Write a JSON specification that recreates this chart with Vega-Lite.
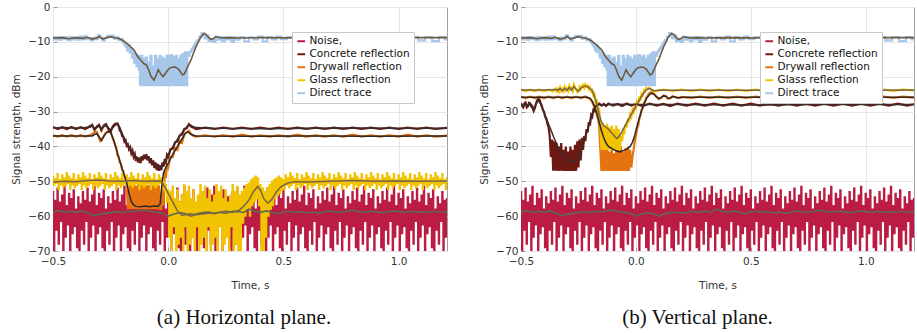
{
"$schema": "https://vega.github.io/schema/vega-lite/v6.json",
"background": "white",
"padding": {"left": 11, "top": 1, "right": 4, "bottom": 0},
"spacing": 31,
"resolve": {"scale": {"color": "independent"}},
"config": {
 "view": {"stroke": "#a0a0a0"},
 "axis": {"labelFont": "DejaVu Sans", "labelFontSize": 10.5, "labelColor": "#333", "titleFont": "DejaVu Sans", "titleFontSize": 10.5, "titleFontWeight": "normal", "titleColor": "#333", "grid": true, "gridColor": "#e6e6e6", "domain": false, "ticks": true, "tickSize": -4, "tickColor": "#999", "labelPadding": 7, "labelFlush": false, "labelOverlap": false},
 "axisX": {"titlePadding": 14, "labelPadding": 9},
 "axisY": {"titlePadding": 6},
 "legend": {"orient": "none", "legendX": 239, "legendY": 25, "title": null, "symbolType": "stroke", "symbolSize": 60, "symbolStrokeWidth": 2, "labelFont": "DejaVu Sans", "labelFontSize": 10.5, "labelColor": "#111", "fillColor": "white", "strokeColor": "#c8c8c8", "padding": 4, "rowPadding": 2, "labelOffset": 3},
 "title": {"orient": "bottom", "font": "Liberation Serif", "fontSize": 21, "fontWeight": "normal", "color": "#111", "anchor": "middle", "offset": 16}
},
"datasets": {
"noise": [{"t":-0.5,"v":-53},{"t":-0.495,"v":-70},{"t":-0.49,"v":-55.5},{"t":-0.485,"v":-64},{"t":-0.48,"v":-52},{"t":-0.475,"v":-68},{"t":-0.47,"v":-56},{"t":-0.465,"v":-61.5},{"t":-0.46,"v":-54},{"t":-0.455,"v":-71},{"t":-0.45,"v":-51.5},{"t":-0.445,"v":-66},{"t":-0.44,"v":-57},{"t":-0.435,"v":-62.5},{"t":-0.43,"v":-53.5},{"t":-0.425,"v":-70},{"t":-0.42,"v":-55},{"t":-0.415,"v":-65},{"t":-0.41,"v":-52.5},{"t":-0.405,"v":-63},{"t":-0.4,"v":-58},{"t":-0.395,"v":-69},{"t":-0.39,"v":-54.5},{"t":-0.385,"v":-70},{"t":-0.38,"v":-56.5},{"t":-0.375,"v":-64},{"t":-0.37,"v":-53},{"t":-0.365,"v":-68},{"t":-0.36,"v":-55.5},{"t":-0.355,"v":-61.5},{"t":-0.35,"v":-52},{"t":-0.345,"v":-71},{"t":-0.34,"v":-56},{"t":-0.335,"v":-66},{"t":-0.33,"v":-54},{"t":-0.325,"v":-62.5},{"t":-0.32,"v":-51.5},{"t":-0.315,"v":-70},{"t":-0.31,"v":-57},{"t":-0.305,"v":-65},{"t":-0.3,"v":-53.5},{"t":-0.295,"v":-63},{"t":-0.29,"v":-55},{"t":-0.285,"v":-69},{"t":-0.28,"v":-52.5},{"t":-0.275,"v":-70},{"t":-0.27,"v":-58},{"t":-0.265,"v":-64},{"t":-0.26,"v":-54.5},{"t":-0.255,"v":-68},{"t":-0.25,"v":-56.5},{"t":-0.245,"v":-61.5},{"t":-0.24,"v":-53},{"t":-0.235,"v":-71},{"t":-0.23,"v":-55.5},{"t":-0.225,"v":-66},{"t":-0.22,"v":-52},{"t":-0.215,"v":-62.5},{"t":-0.21,"v":-56},{"t":-0.205,"v":-70},{"t":-0.2,"v":-54},{"t":-0.195,"v":-65},{"t":-0.19,"v":-51.5},{"t":-0.185,"v":-63},{"t":-0.18,"v":-57},{"t":-0.175,"v":-69},{"t":-0.17,"v":-53.5},{"t":-0.165,"v":-70},{"t":-0.16,"v":-55},{"t":-0.155,"v":-64},{"t":-0.15,"v":-52.5},{"t":-0.145,"v":-68},{"t":-0.14,"v":-58},{"t":-0.135,"v":-61.5},{"t":-0.13,"v":-54.5},{"t":-0.125,"v":-71},{"t":-0.12,"v":-56.5},{"t":-0.115,"v":-66},{"t":-0.11,"v":-53},{"t":-0.105,"v":-62.5},{"t":-0.1,"v":-55.5},{"t":-0.095,"v":-70},{"t":-0.09,"v":-52},{"t":-0.085,"v":-65},{"t":-0.08,"v":-56},{"t":-0.075,"v":-63},{"t":-0.07,"v":-54},{"t":-0.065,"v":-69},{"t":-0.06,"v":-51.5},{"t":-0.055,"v":-70},{"t":-0.05,"v":-57},{"t":-0.045,"v":-64},{"t":-0.04,"v":-53.5},{"t":-0.035,"v":-68},{"t":-0.03,"v":-55},{"t":-0.025,"v":-61.5},{"t":-0.02,"v":-52.5},{"t":-0.015,"v":-71},{"t":-0.01,"v":-58},{"t":-0.005,"v":-66},{"t":0,"v":-54.5},{"t":0.005,"v":-62.5},{"t":0.01,"v":-56.5},{"t":0.015,"v":-70},{"t":0.02,"v":-53},{"t":0.025,"v":-65},{"t":0.03,"v":-55.5},{"t":0.035,"v":-63},{"t":0.04,"v":-52},{"t":0.045,"v":-69},{"t":0.05,"v":-56},{"t":0.055,"v":-70},{"t":0.06,"v":-54},{"t":0.065,"v":-64},{"t":0.07,"v":-51.5},{"t":0.075,"v":-68},{"t":0.08,"v":-57},{"t":0.085,"v":-61.5},{"t":0.09,"v":-53.5},{"t":0.095,"v":-71},{"t":0.1,"v":-55},{"t":0.105,"v":-66},{"t":0.11,"v":-52.5},{"t":0.115,"v":-62.5},{"t":0.12,"v":-58},{"t":0.125,"v":-70},{"t":0.13,"v":-54.5},{"t":0.135,"v":-65},{"t":0.14,"v":-56.5},{"t":0.145,"v":-63},{"t":0.15,"v":-53},{"t":0.155,"v":-69},{"t":0.16,"v":-55.5},{"t":0.165,"v":-70},{"t":0.17,"v":-52},{"t":0.175,"v":-64},{"t":0.18,"v":-56},{"t":0.185,"v":-68},{"t":0.19,"v":-54},{"t":0.195,"v":-61.5},{"t":0.2,"v":-51.5},{"t":0.205,"v":-71},{"t":0.21,"v":-57},{"t":0.215,"v":-66},{"t":0.22,"v":-53.5},{"t":0.225,"v":-62.5},{"t":0.23,"v":-55},{"t":0.235,"v":-70},{"t":0.24,"v":-52.5},{"t":0.245,"v":-65},{"t":0.25,"v":-58},{"t":0.255,"v":-63},{"t":0.26,"v":-54.5},{"t":0.265,"v":-69},{"t":0.27,"v":-56.5},{"t":0.275,"v":-70},{"t":0.28,"v":-53},{"t":0.285,"v":-64},{"t":0.29,"v":-55.5},{"t":0.295,"v":-68},{"t":0.3,"v":-52},{"t":0.305,"v":-61.5},{"t":0.31,"v":-56},{"t":0.315,"v":-71},{"t":0.32,"v":-54},{"t":0.325,"v":-66},{"t":0.33,"v":-51.5},{"t":0.335,"v":-62.5},{"t":0.34,"v":-57},{"t":0.345,"v":-70},{"t":0.35,"v":-53.5},{"t":0.355,"v":-65},{"t":0.36,"v":-55},{"t":0.365,"v":-63},{"t":0.37,"v":-52.5},{"t":0.375,"v":-69},{"t":0.38,"v":-58},{"t":0.385,"v":-70},{"t":0.39,"v":-54.5},{"t":0.395,"v":-64},{"t":0.4,"v":-56.5},{"t":0.405,"v":-68},{"t":0.41,"v":-53},{"t":0.415,"v":-61.5},{"t":0.42,"v":-55.5},{"t":0.425,"v":-71},{"t":0.43,"v":-52},{"t":0.435,"v":-66},{"t":0.44,"v":-56},{"t":0.445,"v":-62.5},{"t":0.45,"v":-54},{"t":0.455,"v":-70},{"t":0.46,"v":-51.5},{"t":0.465,"v":-65},{"t":0.47,"v":-57},{"t":0.475,"v":-63},{"t":0.48,"v":-53.5},{"t":0.485,"v":-69},{"t":0.49,"v":-55},{"t":0.495,"v":-70},{"t":0.5,"v":-52.5},{"t":0.505,"v":-64},{"t":0.51,"v":-58},{"t":0.515,"v":-68},{"t":0.52,"v":-54.5},{"t":0.525,"v":-61.5},{"t":0.53,"v":-56.5},{"t":0.535,"v":-71},{"t":0.54,"v":-53},{"t":0.545,"v":-66},{"t":0.55,"v":-55.5},{"t":0.555,"v":-62.5},{"t":0.56,"v":-52},{"t":0.565,"v":-70},{"t":0.57,"v":-56},{"t":0.575,"v":-65},{"t":0.58,"v":-54},{"t":0.585,"v":-63},{"t":0.59,"v":-51.5},{"t":0.595,"v":-69},{"t":0.6,"v":-57},{"t":0.605,"v":-70},{"t":0.61,"v":-53.5},{"t":0.615,"v":-64},{"t":0.62,"v":-55},{"t":0.625,"v":-68},{"t":0.63,"v":-52.5},{"t":0.635,"v":-61.5},{"t":0.64,"v":-58},{"t":0.645,"v":-71},{"t":0.65,"v":-54.5},{"t":0.655,"v":-66},{"t":0.66,"v":-56.5},{"t":0.665,"v":-62.5},{"t":0.67,"v":-53},{"t":0.675,"v":-70},{"t":0.68,"v":-55.5},{"t":0.685,"v":-65},{"t":0.69,"v":-52},{"t":0.695,"v":-63},{"t":0.7,"v":-56},{"t":0.705,"v":-69},{"t":0.71,"v":-54},{"t":0.715,"v":-70},{"t":0.72,"v":-51.5},{"t":0.725,"v":-64},{"t":0.73,"v":-57},{"t":0.735,"v":-68},{"t":0.74,"v":-53.5},{"t":0.745,"v":-61.5},{"t":0.75,"v":-55},{"t":0.755,"v":-71},{"t":0.76,"v":-52.5},{"t":0.765,"v":-66},{"t":0.77,"v":-58},{"t":0.775,"v":-62.5},{"t":0.78,"v":-54.5},{"t":0.785,"v":-70},{"t":0.79,"v":-56.5},{"t":0.795,"v":-65},{"t":0.8,"v":-53},{"t":0.805,"v":-63},{"t":0.81,"v":-55.5},{"t":0.815,"v":-69},{"t":0.82,"v":-52},{"t":0.825,"v":-70},{"t":0.83,"v":-56},{"t":0.835,"v":-64},{"t":0.84,"v":-54},{"t":0.845,"v":-68},{"t":0.85,"v":-51.5},{"t":0.855,"v":-61.5},{"t":0.86,"v":-57},{"t":0.865,"v":-71},{"t":0.87,"v":-53.5},{"t":0.875,"v":-66},{"t":0.88,"v":-55},{"t":0.885,"v":-62.5},{"t":0.89,"v":-52.5},{"t":0.895,"v":-70},{"t":0.9,"v":-58},{"t":0.905,"v":-65},{"t":0.91,"v":-54.5},{"t":0.915,"v":-63},{"t":0.92,"v":-56.5},{"t":0.925,"v":-69},{"t":0.93,"v":-53},{"t":0.935,"v":-70},{"t":0.94,"v":-55.5},{"t":0.945,"v":-64},{"t":0.95,"v":-52},{"t":0.955,"v":-68},{"t":0.96,"v":-56},{"t":0.965,"v":-61.5},{"t":0.97,"v":-54},{"t":0.975,"v":-71},{"t":0.98,"v":-51.5},{"t":0.985,"v":-66},{"t":0.99,"v":-57},{"t":0.995,"v":-62.5},{"t":1.0,"v":-53.5},{"t":1.005,"v":-70},{"t":1.01,"v":-55},{"t":1.015,"v":-65},{"t":1.02,"v":-52.5},{"t":1.025,"v":-63},{"t":1.03,"v":-58},{"t":1.035,"v":-69},{"t":1.04,"v":-54.5},{"t":1.045,"v":-70},{"t":1.05,"v":-56.5},{"t":1.055,"v":-64},{"t":1.06,"v":-53},{"t":1.065,"v":-68},{"t":1.07,"v":-55.5},{"t":1.075,"v":-61.5},{"t":1.08,"v":-52},{"t":1.085,"v":-71},{"t":1.09,"v":-56},{"t":1.095,"v":-66},{"t":1.1,"v":-54},{"t":1.105,"v":-62.5},{"t":1.11,"v":-51.5},{"t":1.115,"v":-70},{"t":1.12,"v":-57},{"t":1.125,"v":-65},{"t":1.13,"v":-53.5},{"t":1.135,"v":-63},{"t":1.14,"v":-55},{"t":1.145,"v":-69},{"t":1.15,"v":-52.5},{"t":1.155,"v":-70},{"t":1.16,"v":-58},{"t":1.165,"v":-64},{"t":1.17,"v":-54.5},{"t":1.175,"v":-68},{"t":1.18,"v":-56.5},{"t":1.185,"v":-61.5},{"t":1.19,"v":-53},{"t":1.195,"v":-71},{"t":1.2,"v":-55.5},{"t":1.205,"v":-66},{"t":1.21,"v":-55}],
"noiseS": [{"t":-0.5,"v":-58.8},{"t":-0.475,"v":-58.4},{"t":-0.45,"v":-58.9},{"t":-0.425,"v":-58.6},{"t":-0.4,"v":-58.9},{"t":-0.375,"v":-58.5},{"t":-0.35,"v":-59.0},{"t":-0.325,"v":-59.8},{"t":-0.3,"v":-59.5},{"t":-0.275,"v":-59.2},{"t":-0.25,"v":-59.0},{"t":-0.225,"v":-58.7},{"t":-0.2,"v":-59.0},{"t":-0.175,"v":-58.6},{"t":-0.15,"v":-58.8},{"t":-0.125,"v":-58.4},{"t":-0.1,"v":-58.3},{"t":-0.075,"v":-58.7},{"t":-0.05,"v":-58.9},{"t":-0.025,"v":-59.2},{"t":0,"v":-60.0},{"t":0.025,"v":-59.4},{"t":0.05,"v":-59.0},{"t":0.075,"v":-59.3},{"t":0.1,"v":-60.0},{"t":0.125,"v":-59.3},{"t":0.15,"v":-59.0},{"t":0.175,"v":-58.8},{"t":0.2,"v":-59.2},{"t":0.225,"v":-58.9},{"t":0.25,"v":-58.6},{"t":0.275,"v":-58.9},{"t":0.3,"v":-58.5},{"t":0.325,"v":-59.0},{"t":0.35,"v":-58.0},{"t":0.375,"v":-58.6},{"t":0.4,"v":-58.9},{"t":0.425,"v":-58.5},{"t":0.45,"v":-58.9},{"t":0.475,"v":-59.3},{"t":0.5,"v":-58.8},{"t":0.525,"v":-58.6},{"t":0.55,"v":-58.9},{"t":0.575,"v":-58.7},{"t":0.6,"v":-59.1},{"t":0.625,"v":-58.8},{"t":0.65,"v":-59.2},{"t":0.675,"v":-58.9},{"t":0.7,"v":-58.5},{"t":0.725,"v":-58.8},{"t":0.75,"v":-58.9},{"t":0.775,"v":-58.6},{"t":0.8,"v":-58.3},{"t":0.825,"v":-58.7},{"t":0.85,"v":-58.8},{"t":0.875,"v":-58.6},{"t":0.9,"v":-58.7},{"t":0.925,"v":-59.0},{"t":0.95,"v":-58.8},{"t":0.975,"v":-58.5},{"t":1.0,"v":-58.7},{"t":1.025,"v":-58.9},{"t":1.05,"v":-58.6},{"t":1.075,"v":-58.8},{"t":1.1,"v":-58.7},{"t":1.125,"v":-58.9},{"t":1.15,"v":-58.6},{"t":1.175,"v":-58.8},{"t":1.21,"v":-58.9}],
"direct": [{"t":-0.5,"v":-8.6},{"t":-0.49,"v":-9.3},{"t":-0.48,"v":-8.7},{"t":-0.47,"v":-9.4},{"t":-0.46,"v":-8.6},{"t":-0.45,"v":-9.2},{"t":-0.44,"v":-8.7},{"t":-0.43,"v":-9.5},{"t":-0.42,"v":-8.6},{"t":-0.41,"v":-9.3},{"t":-0.4,"v":-8.8},{"t":-0.39,"v":-9.4},{"t":-0.38,"v":-8.5},{"t":-0.37,"v":-9.3},{"t":-0.36,"v":-8.4},{"t":-0.35,"v":-9.2},{"t":-0.34,"v":-8.9},{"t":-0.33,"v":-9.6},{"t":-0.32,"v":-8.8},{"t":-0.31,"v":-9.2},{"t":-0.3,"v":-8.1},{"t":-0.29,"v":-8.8},{"t":-0.28,"v":-9.6},{"t":-0.27,"v":-8.9},{"t":-0.26,"v":-8.3},{"t":-0.25,"v":-8.6},{"t":-0.24,"v":-8.3},{"t":-0.23,"v":-9.1},{"t":-0.22,"v":-8.7},{"t":-0.21,"v":-9.5},{"t":-0.2,"v":-9.2},{"t":-0.195,"v":-10},{"t":-0.19,"v":-10.5},{"t":-0.185,"v":-11},{"t":-0.18,"v":-11.5},{"t":-0.175,"v":-12.5},{"t":-0.17,"v":-11},{"t":-0.165,"v":-13},{"t":-0.16,"v":-12},{"t":-0.155,"v":-14.5},{"t":-0.15,"v":-13},{"t":-0.145,"v":-16},{"t":-0.14,"v":-13.5},{"t":-0.135,"v":-17},{"t":-0.13,"v":-14},{"t":-0.125,"v":-18},{"t":-0.12,"v":-22.4},{"t":-0.115,"v":-14},{"t":-0.11,"v":-22.4},{"t":-0.105,"v":-15},{"t":-0.1,"v":-22.4},{"t":-0.095,"v":-14.5},{"t":-0.09,"v":-22.4},{"t":-0.085,"v":-16},{"t":-0.08,"v":-22.4},{"t":-0.075,"v":-14},{"t":-0.07,"v":-22.4},{"t":-0.065,"v":-17},{"t":-0.06,"v":-22.4},{"t":-0.055,"v":-14},{"t":-0.05,"v":-22.4},{"t":-0.045,"v":-15},{"t":-0.04,"v":-22.4},{"t":-0.035,"v":-14},{"t":-0.03,"v":-22.4},{"t":-0.025,"v":-14.5},{"t":-0.02,"v":-22.4},{"t":-0.015,"v":-15},{"t":-0.01,"v":-22.4},{"t":-0.005,"v":-14},{"t":0,"v":-22.4},{"t":0.005,"v":-14},{"t":0.01,"v":-22.4},{"t":0.015,"v":-13.8},{"t":0.02,"v":-22.4},{"t":0.025,"v":-14.5},{"t":0.03,"v":-22.4},{"t":0.035,"v":-14},{"t":0.04,"v":-22.4},{"t":0.045,"v":-15},{"t":0.05,"v":-22.4},{"t":0.055,"v":-14},{"t":0.06,"v":-22.4},{"t":0.065,"v":-13.5},{"t":0.07,"v":-22.4},{"t":0.075,"v":-13},{"t":0.08,"v":-22.4},{"t":0.085,"v":-13},{"t":0.09,"v":-14},{"t":0.095,"v":-13},{"t":0.1,"v":-12.5},{"t":0.105,"v":-12},{"t":0.11,"v":-11.5},{"t":0.115,"v":-11},{"t":0.12,"v":-10.5},{"t":0.125,"v":-10},{"t":0.13,"v":-9.5},{"t":0.14,"v":-8.5},{"t":0.15,"v":-7.5},{"t":0.155,"v":-8},{"t":0.16,"v":-9},{"t":0.17,"v":-8.2},{"t":0.18,"v":-9.8},{"t":0.19,"v":-9.2},{"t":0.2,"v":-10},{"t":0.21,"v":-8.5},{"t":0.22,"v":-9.4},{"t":0.23,"v":-8.6},{"t":0.24,"v":-9.9},{"t":0.25,"v":-8.7},{"t":0.26,"v":-9.3},{"t":0.27,"v":-8.6},{"t":0.28,"v":-10},{"t":0.29,"v":-8.7},{"t":0.3,"v":-9.4},{"t":0.32,"v":-8.6},{"t":0.34,"v":-9.9},{"t":0.36,"v":-8.7},{"t":0.38,"v":-9.3},{"t":0.4,"v":-8.5},{"t":0.42,"v":-9.9},{"t":0.44,"v":-8.6},{"t":0.46,"v":-9.3},{"t":0.48,"v":-8.5},{"t":0.5,"v":-9.2},{"t":0.53,"v":-8.6},{"t":0.56,"v":-9.3},{"t":0.59,"v":-8.6},{"t":0.62,"v":-9.3},{"t":0.65,"v":-8.6},{"t":0.68,"v":-9.2},{"t":0.71,"v":-8.6},{"t":0.74,"v":-9.3},{"t":0.77,"v":-8.6},{"t":0.8,"v":-9.2},{"t":0.83,"v":-8.6},{"t":0.86,"v":-9.3},{"t":0.89,"v":-8.6},{"t":0.92,"v":-9.2},{"t":0.95,"v":-8.6},{"t":0.98,"v":-9.3},{"t":1.01,"v":-8.6},{"t":1.04,"v":-9.2},{"t":1.07,"v":-8.6},{"t":1.1,"v":-9.6},{"t":1.13,"v":-8.6},{"t":1.16,"v":-9.8},{"t":1.19,"v":-8.6},{"t":1.21,"v":-9.3}],
"directS": [{"t":-0.5,"v":-8.9},{"t":-0.46,"v":-8.8},{"t":-0.43,"v":-9.1},{"t":-0.4,"v":-8.8},{"t":-0.37,"v":-9.0},{"t":-0.35,"v":-8.7},{"t":-0.33,"v":-9.2},{"t":-0.31,"v":-8.9},{"t":-0.3,"v":-8.4},{"t":-0.285,"v":-9.2},{"t":-0.27,"v":-8.9},{"t":-0.25,"v":-8.5},{"t":-0.235,"v":-8.8},{"t":-0.22,"v":-8.9},{"t":-0.205,"v":-9.3},{"t":-0.19,"v":-9.9},{"t":-0.178,"v":-10.5},{"t":-0.165,"v":-11.3},{"t":-0.148,"v":-12.3},{"t":-0.135,"v":-14},{"t":-0.119,"v":-15.3},{"t":-0.105,"v":-16.3},{"t":-0.095,"v":-16.6},{"t":-0.085,"v":-18},{"t":-0.075,"v":-19.8},{"t":-0.062,"v":-21},{"t":-0.052,"v":-19.5},{"t":-0.043,"v":-18},{"t":-0.032,"v":-19.2},{"t":-0.022,"v":-20},{"t":-0.012,"v":-19},{"t":0.004,"v":-17.6},{"t":0.017,"v":-17.3},{"t":0.03,"v":-17.2},{"t":0.045,"v":-17.8},{"t":0.055,"v":-18.8},{"t":0.062,"v":-19.5},{"t":0.07,"v":-19.2},{"t":0.08,"v":-17.8},{"t":0.09,"v":-16.3},{"t":0.099,"v":-15.2},{"t":0.11,"v":-13.2},{"t":0.12,"v":-11.5},{"t":0.128,"v":-10.4},{"t":0.14,"v":-8.8},{"t":0.15,"v":-7.9},{"t":0.157,"v":-7.6},{"t":0.165,"v":-7.9},{"t":0.175,"v":-8.7},{"t":0.185,"v":-9.3},{"t":0.195,"v":-9.1},{"t":0.205,"v":-8.6},{"t":0.215,"v":-8.6},{"t":0.23,"v":-8.9},{"t":0.26,"v":-8.8},{"t":0.3,"v":-8.9},{"t":0.4,"v":-8.8},{"t":0.6,"v":-8.9},{"t":0.8,"v":-8.8},{"t":1.0,"v":-8.8},{"t":1.21,"v":-8.8}],
"aCon": [{"t":-0.5,"v":-34.4},{"t":-0.48,"v":-35},{"t":-0.46,"v":-34.5},{"t":-0.44,"v":-35},{"t":-0.42,"v":-34.4},{"t":-0.4,"v":-35},{"t":-0.38,"v":-34.5},{"t":-0.36,"v":-35},{"t":-0.34,"v":-34.2},{"t":-0.33,"v":-33.8},{"t":-0.32,"v":-35.3},{"t":-0.31,"v":-34.3},{"t":-0.3,"v":-33.8},{"t":-0.29,"v":-35.4},{"t":-0.28,"v":-34},{"t":-0.27,"v":-33.6},{"t":-0.26,"v":-35},{"t":-0.25,"v":-35.8},{"t":-0.24,"v":-34.2},{"t":-0.23,"v":-33.5},{"t":-0.22,"v":-33.4},{"t":-0.215,"v":-34.2},{"t":-0.21,"v":-35.5},{"t":-0.205,"v":-35.8},{"t":-0.2,"v":-37},{"t":-0.195,"v":-37.2},{"t":-0.19,"v":-38.6},{"t":-0.185,"v":-38.2},{"t":-0.18,"v":-39.8},{"t":-0.175,"v":-39.4},{"t":-0.17,"v":-40.8},{"t":-0.165,"v":-40.2},{"t":-0.16,"v":-42},{"t":-0.155,"v":-41.2},{"t":-0.15,"v":-43},{"t":-0.145,"v":-42.2},{"t":-0.14,"v":-44.2},{"t":-0.135,"v":-43},{"t":-0.13,"v":-44.6},{"t":-0.125,"v":-43.2},{"t":-0.12,"v":-44.8},{"t":-0.115,"v":-42.8},{"t":-0.11,"v":-44},{"t":-0.105,"v":-42.4},{"t":-0.1,"v":-43.6},{"t":-0.095,"v":-42.2},{"t":-0.09,"v":-44},{"t":-0.085,"v":-42.8},{"t":-0.08,"v":-44.8},{"t":-0.075,"v":-43.4},{"t":-0.07,"v":-45.4},{"t":-0.065,"v":-44},{"t":-0.06,"v":-46.2},{"t":-0.055,"v":-44.6},{"t":-0.05,"v":-46.8},{"t":-0.045,"v":-45},{"t":-0.04,"v":-47},{"t":-0.035,"v":-45.4},{"t":-0.03,"v":-46.8},{"t":-0.025,"v":-44.6},{"t":-0.02,"v":-45.8},{"t":-0.015,"v":-43.6},{"t":-0.01,"v":-44.5},{"t":-0.005,"v":-42.4},{"t":0,"v":-43},{"t":0.01,"v":-40.8},{"t":0.02,"v":-40.6},{"t":0.03,"v":-38.8},{"t":0.04,"v":-38.6},{"t":0.05,"v":-36.8},{"t":0.06,"v":-36.6},{"t":0.07,"v":-35},{"t":0.08,"v":-34.8},{"t":0.09,"v":-33.6},{"t":0.1,"v":-34.4},{"t":0.11,"v":-34.6},{"t":0.12,"v":-35},{"t":0.16,"v":-34.6},{"t":0.2,"v":-35},{"t":0.24,"v":-34.6},{"t":0.28,"v":-35},{"t":0.32,"v":-34.6},{"t":0.36,"v":-35},{"t":0.4,"v":-34.6},{"t":0.44,"v":-35},{"t":0.48,"v":-34.6},{"t":0.52,"v":-35},{"t":0.56,"v":-34.6},{"t":0.6,"v":-35},{"t":0.64,"v":-34.6},{"t":0.68,"v":-35},{"t":0.72,"v":-34.6},{"t":0.76,"v":-35},{"t":0.8,"v":-34.6},{"t":0.84,"v":-35},{"t":0.88,"v":-34.6},{"t":0.92,"v":-35},{"t":0.96,"v":-34.6},{"t":1.0,"v":-35},{"t":1.04,"v":-34.6},{"t":1.08,"v":-35},{"t":1.12,"v":-34.6},{"t":1.16,"v":-35},{"t":1.21,"v":-34.7}],
"aConS": [{"t":-0.5,"v":-34.7},{"t":-0.45,"v":-34.6},{"t":-0.4,"v":-34.8},{"t":-0.36,"v":-34.6},{"t":-0.34,"v":-34.5},{"t":-0.33,"v":-34.1},{"t":-0.32,"v":-34.9},{"t":-0.31,"v":-34.6},{"t":-0.3,"v":-34.1},{"t":-0.29,"v":-34.9},{"t":-0.28,"v":-34.4},{"t":-0.27,"v":-34.0},{"t":-0.26,"v":-34.6},{"t":-0.25,"v":-35.3},{"t":-0.24,"v":-34.6},{"t":-0.23,"v":-33.9},{"t":-0.22,"v":-33.6},{"t":-0.21,"v":-34.5},{"t":-0.2,"v":-36.2},{"t":-0.19,"v":-37.8},{"t":-0.18,"v":-39.1},{"t":-0.165,"v":-40.8},{"t":-0.15,"v":-42},{"t":-0.135,"v":-43.4},{"t":-0.12,"v":-43.9},{"t":-0.105,"v":-43.3},{"t":-0.095,"v":-43},{"t":-0.085,"v":-43.5},{"t":-0.075,"v":-44.1},{"t":-0.065,"v":-44.8},{"t":-0.055,"v":-45.4},{"t":-0.045,"v":-46},{"t":-0.035,"v":-46.4},{"t":-0.025,"v":-45.6},{"t":-0.015,"v":-44.5},{"t":-0.005,"v":-43.2},{"t":0.01,"v":-41.2},{"t":0.03,"v":-39},{"t":0.05,"v":-37},{"t":0.07,"v":-35.2},{"t":0.085,"v":-34.1},{"t":0.095,"v":-33.8},{"t":0.105,"v":-34.2},{"t":0.12,"v":-34.6},{"t":0.2,"v":-34.8},{"t":0.4,"v":-34.9},{"t":0.6,"v":-34.8},{"t":0.8,"v":-34.7},{"t":1.0,"v":-34.8},{"t":1.21,"v":-34.8}],
"aDry": [{"t":-0.5,"v":-36.8},{"t":-0.48,"v":-37.2},{"t":-0.46,"v":-36.8},{"t":-0.44,"v":-37.2},{"t":-0.42,"v":-36.8},{"t":-0.4,"v":-37.2},{"t":-0.38,"v":-36.8},{"t":-0.36,"v":-37.2},{"t":-0.34,"v":-36.8},{"t":-0.33,"v":-36.5},{"t":-0.32,"v":-36},{"t":-0.31,"v":-35.8},{"t":-0.3,"v":-37.5},{"t":-0.295,"v":-38.5},{"t":-0.29,"v":-38.4},{"t":-0.28,"v":-37},{"t":-0.27,"v":-36},{"t":-0.26,"v":-35.6},{"t":-0.25,"v":-35.6},{"t":-0.245,"v":-36.8},{"t":-0.24,"v":-37.8},{"t":-0.235,"v":-38.6},{"t":-0.23,"v":-39.8},{"t":-0.225,"v":-40.5},{"t":-0.22,"v":-42.5},{"t":-0.215,"v":-43},{"t":-0.21,"v":-44.6},{"t":-0.205,"v":-45},{"t":-0.2,"v":-46.8},{"t":-0.195,"v":-47},{"t":-0.19,"v":-48.6},{"t":-0.185,"v":-49.5},{"t":-0.18,"v":-51},{"t":-0.175,"v":-58},{"t":-0.17,"v":-51},{"t":-0.165,"v":-58},{"t":-0.16,"v":-50.8},{"t":-0.155,"v":-58},{"t":-0.15,"v":-51},{"t":-0.145,"v":-58},{"t":-0.14,"v":-51.2},{"t":-0.135,"v":-58},{"t":-0.13,"v":-50.8},{"t":-0.125,"v":-58},{"t":-0.12,"v":-51},{"t":-0.115,"v":-58},{"t":-0.11,"v":-51.2},{"t":-0.105,"v":-58},{"t":-0.1,"v":-50.8},{"t":-0.095,"v":-58},{"t":-0.09,"v":-51},{"t":-0.085,"v":-58},{"t":-0.08,"v":-51},{"t":-0.075,"v":-58},{"t":-0.07,"v":-50.8},{"t":-0.065,"v":-58},{"t":-0.06,"v":-51.2},{"t":-0.055,"v":-58},{"t":-0.05,"v":-51},{"t":-0.045,"v":-58},{"t":-0.04,"v":-51},{"t":-0.035,"v":-58},{"t":-0.03,"v":-58},{"t":-0.025,"v":-50},{"t":-0.02,"v":-57},{"t":-0.015,"v":-47},{"t":-0.01,"v":-49},{"t":-0.005,"v":-45},{"t":0,"v":-46},{"t":0.01,"v":-43},{"t":0.02,"v":-43},{"t":0.03,"v":-40.5},{"t":0.04,"v":-41},{"t":0.05,"v":-38.5},{"t":0.06,"v":-39},{"t":0.07,"v":-36.5},{"t":0.08,"v":-36},{"t":0.09,"v":-35.5},{"t":0.1,"v":-36.5},{"t":0.11,"v":-37},{"t":0.12,"v":-37.2},{"t":0.16,"v":-36.8},{"t":0.2,"v":-37.2},{"t":0.24,"v":-36.8},{"t":0.28,"v":-37.2},{"t":0.32,"v":-36.6},{"t":0.36,"v":-37.2},{"t":0.4,"v":-36.8},{"t":0.44,"v":-37.2},{"t":0.48,"v":-36.8},{"t":0.52,"v":-37.2},{"t":0.56,"v":-36.6},{"t":0.6,"v":-37.2},{"t":0.64,"v":-36.8},{"t":0.68,"v":-37.2},{"t":0.72,"v":-36.8},{"t":0.76,"v":-37.2},{"t":0.8,"v":-36.6},{"t":0.84,"v":-37.2},{"t":0.88,"v":-36.8},{"t":0.92,"v":-37.2},{"t":0.96,"v":-36.8},{"t":1.0,"v":-37.2},{"t":1.04,"v":-36.6},{"t":1.08,"v":-37.2},{"t":1.12,"v":-36.8},{"t":1.16,"v":-37.2},{"t":1.21,"v":-36.9}],
"aDryS": [{"t":-0.5,"v":-37},{"t":-0.33,"v":-37},{"t":-0.32,"v":-36.6},{"t":-0.31,"v":-36.3},{"t":-0.3,"v":-37.3},{"t":-0.29,"v":-38.2},{"t":-0.28,"v":-37.2},{"t":-0.27,"v":-36.2},{"t":-0.26,"v":-35.8},{"t":-0.25,"v":-36},{"t":-0.24,"v":-37.6},{"t":-0.23,"v":-39.6},{"t":-0.22,"v":-42},{"t":-0.21,"v":-44.2},{"t":-0.2,"v":-46.3},{"t":-0.19,"v":-48.3},{"t":-0.18,"v":-50.5},{"t":-0.17,"v":-53.5},{"t":-0.16,"v":-55.8},{"t":-0.15,"v":-56.8},{"t":-0.14,"v":-57.2},{"t":-0.12,"v":-57.3},{"t":-0.1,"v":-57.1},{"t":-0.08,"v":-57.3},{"t":-0.06,"v":-57.1},{"t":-0.045,"v":-57.2},{"t":-0.035,"v":-56.5},{"t":-0.03,"v":-53},{"t":-0.025,"v":-49.5},{"t":-0.02,"v":-47.5},{"t":-0.01,"v":-46},{"t":0,"v":-44.8},{"t":0.02,"v":-42.2},{"t":0.04,"v":-40},{"t":0.06,"v":-37.8},{"t":0.075,"v":-36.2},{"t":0.085,"v":-35.8},{"t":0.1,"v":-36.6},{"t":0.12,"v":-37},{"t":0.3,"v":-37.1},{"t":0.6,"v":-37},{"t":0.9,"v":-37.1},{"t":1.21,"v":-37}],
"aGla": [{"t":-0.5,"v":-48.5},{"t":-0.495,"v":-51.2},{"t":-0.49,"v":-49.3},{"t":-0.485,"v":-50.6},{"t":-0.48,"v":-47.8},{"t":-0.475,"v":-52.3},{"t":-0.47,"v":-49.6},{"t":-0.465,"v":-51},{"t":-0.46,"v":-48.2},{"t":-0.455,"v":-51.8},{"t":-0.45,"v":-49},{"t":-0.445,"v":-51.2},{"t":-0.44,"v":-47.5},{"t":-0.435,"v":-50.6},{"t":-0.43,"v":-48.5},{"t":-0.425,"v":-52.3},{"t":-0.42,"v":-49.3},{"t":-0.415,"v":-51},{"t":-0.41,"v":-47.8},{"t":-0.405,"v":-51.8},{"t":-0.4,"v":-49.6},{"t":-0.395,"v":-51.2},{"t":-0.39,"v":-48.2},{"t":-0.385,"v":-50.6},{"t":-0.38,"v":-49},{"t":-0.375,"v":-52.3},{"t":-0.37,"v":-47.5},{"t":-0.365,"v":-51},{"t":-0.36,"v":-48.5},{"t":-0.355,"v":-51.8},{"t":-0.35,"v":-49.3},{"t":-0.345,"v":-51.2},{"t":-0.34,"v":-47.8},{"t":-0.335,"v":-50.6},{"t":-0.33,"v":-49.6},{"t":-0.325,"v":-52.3},{"t":-0.32,"v":-48.2},{"t":-0.315,"v":-51},{"t":-0.31,"v":-49},{"t":-0.305,"v":-51.8},{"t":-0.3,"v":-47.5},{"t":-0.295,"v":-51.2},{"t":-0.29,"v":-48.5},{"t":-0.285,"v":-50.6},{"t":-0.28,"v":-49.3},{"t":-0.275,"v":-52.3},{"t":-0.27,"v":-47.8},{"t":-0.265,"v":-51},{"t":-0.26,"v":-49.6},{"t":-0.255,"v":-51.8},{"t":-0.25,"v":-48.2},{"t":-0.245,"v":-51.2},{"t":-0.24,"v":-49},{"t":-0.235,"v":-50.6},{"t":-0.23,"v":-47.5},{"t":-0.225,"v":-52.3},{"t":-0.22,"v":-48.5},{"t":-0.215,"v":-51},{"t":-0.21,"v":-49.3},{"t":-0.205,"v":-51.8},{"t":-0.2,"v":-47.8},{"t":-0.195,"v":-51.2},{"t":-0.19,"v":-49.6},{"t":-0.185,"v":-50.6},{"t":-0.18,"v":-48.2},{"t":-0.175,"v":-52.3},{"t":-0.17,"v":-49},{"t":-0.165,"v":-51},{"t":-0.16,"v":-47.5},{"t":-0.155,"v":-51.8},{"t":-0.15,"v":-48.5},{"t":-0.145,"v":-51.2},{"t":-0.14,"v":-49.3},{"t":-0.135,"v":-50.6},{"t":-0.13,"v":-47.8},{"t":-0.125,"v":-52.3},{"t":-0.12,"v":-49.6},{"t":-0.115,"v":-51},{"t":-0.11,"v":-48.2},{"t":-0.105,"v":-51.8},{"t":-0.1,"v":-49},{"t":-0.095,"v":-51.2},{"t":-0.09,"v":-47.5},{"t":-0.085,"v":-50.6},{"t":-0.08,"v":-48.5},{"t":-0.075,"v":-52.3},{"t":-0.07,"v":-49.3},{"t":-0.065,"v":-51},{"t":-0.06,"v":-47.8},{"t":-0.055,"v":-51.8},{"t":-0.05,"v":-49.6},{"t":-0.045,"v":-51.2},{"t":-0.04,"v":-48.2},{"t":-0.035,"v":-50.6},{"t":-0.03,"v":-49},{"t":-0.025,"v":-52.3},{"t":-0.02,"v":-50},{"t":-0.015,"v":-53},{"t":-0.01,"v":-51},{"t":-0.005,"v":-56},{"t":0,"v":-52.5},{"t":0.005,"v":-66},{"t":0.01,"v":-53},{"t":0.015,"v":-71},{"t":0.02,"v":-51.5},{"t":0.025,"v":-63},{"t":0.03,"v":-55},{"t":0.035,"v":-71},{"t":0.04,"v":-52.5},{"t":0.045,"v":-68},{"t":0.05,"v":-56},{"t":0.055,"v":-66},{"t":0.06,"v":-54},{"t":0.065,"v":-71},{"t":0.07,"v":-51},{"t":0.075,"v":-63},{"t":0.08,"v":-53},{"t":0.085,"v":-71},{"t":0.09,"v":-51.5},{"t":0.095,"v":-68},{"t":0.1,"v":-55},{"t":0.105,"v":-66},{"t":0.11,"v":-52.5},{"t":0.115,"v":-71},{"t":0.12,"v":-56},{"t":0.125,"v":-63},{"t":0.13,"v":-54},{"t":0.135,"v":-71},{"t":0.14,"v":-51},{"t":0.145,"v":-68},{"t":0.15,"v":-53},{"t":0.155,"v":-66},{"t":0.16,"v":-51.5},{"t":0.165,"v":-71},{"t":0.17,"v":-55},{"t":0.175,"v":-63},{"t":0.18,"v":-52.5},{"t":0.185,"v":-71},{"t":0.19,"v":-56},{"t":0.195,"v":-68},{"t":0.2,"v":-54},{"t":0.205,"v":-66},{"t":0.21,"v":-51},{"t":0.215,"v":-71},{"t":0.22,"v":-53},{"t":0.225,"v":-63},{"t":0.23,"v":-51.5},{"t":0.235,"v":-71},{"t":0.24,"v":-55},{"t":0.245,"v":-68},{"t":0.25,"v":-52.5},{"t":0.255,"v":-66},{"t":0.26,"v":-56},{"t":0.265,"v":-71},{"t":0.27,"v":-54},{"t":0.275,"v":-63},{"t":0.28,"v":-51},{"t":0.285,"v":-71},{"t":0.29,"v":-53},{"t":0.295,"v":-68},{"t":0.3,"v":-51.5},{"t":0.305,"v":-71},{"t":0.31,"v":-54},{"t":0.315,"v":-70},{"t":0.32,"v":-53},{"t":0.325,"v":-62},{"t":0.33,"v":-52},{"t":0.335,"v":-60},{"t":0.34,"v":-51},{"t":0.345,"v":-58},{"t":0.35,"v":-50.5},{"t":0.355,"v":-60},{"t":0.36,"v":-49.5},{"t":0.365,"v":-57},{"t":0.37,"v":-49},{"t":0.375,"v":-56},{"t":0.38,"v":-48.5},{"t":0.385,"v":-55},{"t":0.39,"v":-49},{"t":0.395,"v":-57},{"t":0.4,"v":-51},{"t":0.405,"v":-71},{"t":0.41,"v":-52},{"t":0.415,"v":-71},{"t":0.42,"v":-53},{"t":0.425,"v":-66},{"t":0.43,"v":-52},{"t":0.435,"v":-60},{"t":0.44,"v":-51},{"t":0.445,"v":-58},{"t":0.45,"v":-50},{"t":0.455,"v":-57},{"t":0.46,"v":-49.5},{"t":0.465,"v":-55},{"t":0.47,"v":-49},{"t":0.475,"v":-54},{"t":0.48,"v":-48.5},{"t":0.485,"v":-53.5},{"t":0.49,"v":-49},{"t":0.495,"v":-52.5},{"t":0.5,"v":-49.6},{"t":0.505,"v":-52.3},{"t":0.51,"v":-48.2},{"t":0.515,"v":-51},{"t":0.52,"v":-49},{"t":0.525,"v":-51.8},{"t":0.53,"v":-47.5},{"t":0.535,"v":-51.2},{"t":0.54,"v":-48.5},{"t":0.545,"v":-50.6},{"t":0.55,"v":-49.3},{"t":0.555,"v":-52.3},{"t":0.56,"v":-47.8},{"t":0.565,"v":-51},{"t":0.57,"v":-49.6},{"t":0.575,"v":-51.8},{"t":0.58,"v":-48.2},{"t":0.585,"v":-51.2},{"t":0.59,"v":-49},{"t":0.595,"v":-50.6},{"t":0.6,"v":-47.5},{"t":0.605,"v":-52.3},{"t":0.61,"v":-48.5},{"t":0.615,"v":-51},{"t":0.62,"v":-49.3},{"t":0.625,"v":-51.8},{"t":0.63,"v":-47.8},{"t":0.635,"v":-51.2},{"t":0.64,"v":-49.6},{"t":0.645,"v":-50.6},{"t":0.65,"v":-48.2},{"t":0.655,"v":-52.3},{"t":0.66,"v":-49},{"t":0.665,"v":-51},{"t":0.67,"v":-47.5},{"t":0.675,"v":-51.8},{"t":0.68,"v":-48.5},{"t":0.685,"v":-51.2},{"t":0.69,"v":-49.3},{"t":0.695,"v":-50.6},{"t":0.7,"v":-47.8},{"t":0.705,"v":-52.3},{"t":0.71,"v":-49.6},{"t":0.715,"v":-51},{"t":0.72,"v":-48.2},{"t":0.725,"v":-51.8},{"t":0.73,"v":-49},{"t":0.735,"v":-51.2},{"t":0.74,"v":-47.5},{"t":0.745,"v":-50.6},{"t":0.75,"v":-48.5},{"t":0.755,"v":-52.3},{"t":0.76,"v":-49.3},{"t":0.765,"v":-51},{"t":0.77,"v":-47.8},{"t":0.775,"v":-51.8},{"t":0.78,"v":-49.6},{"t":0.785,"v":-51.2},{"t":0.79,"v":-48.2},{"t":0.795,"v":-50.6},{"t":0.8,"v":-49},{"t":0.805,"v":-52.3},{"t":0.81,"v":-47.5},{"t":0.815,"v":-51},{"t":0.82,"v":-48.5},{"t":0.825,"v":-51.8},{"t":0.83,"v":-49.3},{"t":0.835,"v":-51.2},{"t":0.84,"v":-47.8},{"t":0.845,"v":-50.6},{"t":0.85,"v":-49.6},{"t":0.855,"v":-52.3},{"t":0.86,"v":-48.2},{"t":0.865,"v":-51},{"t":0.87,"v":-49},{"t":0.875,"v":-51.8},{"t":0.88,"v":-47.5},{"t":0.885,"v":-51.2},{"t":0.89,"v":-48.5},{"t":0.895,"v":-50.6},{"t":0.9,"v":-49.3},{"t":0.905,"v":-52.3},{"t":0.91,"v":-47.8},{"t":0.915,"v":-51},{"t":0.92,"v":-49.6},{"t":0.925,"v":-51.8},{"t":0.93,"v":-48.2},{"t":0.935,"v":-51.2},{"t":0.94,"v":-49},{"t":0.945,"v":-50.6},{"t":0.95,"v":-47.5},{"t":0.955,"v":-52.3},{"t":0.96,"v":-48.5},{"t":0.965,"v":-51},{"t":0.97,"v":-49.3},{"t":0.975,"v":-51.8},{"t":0.98,"v":-47.8},{"t":0.985,"v":-51.2},{"t":0.99,"v":-49.6},{"t":0.995,"v":-50.6},{"t":1.0,"v":-48.2},{"t":1.005,"v":-52.3},{"t":1.01,"v":-49},{"t":1.015,"v":-51},{"t":1.02,"v":-47.5},{"t":1.025,"v":-51.8},{"t":1.03,"v":-48.5},{"t":1.035,"v":-51.2},{"t":1.04,"v":-49.3},{"t":1.045,"v":-50.6},{"t":1.05,"v":-47.8},{"t":1.055,"v":-52.3},{"t":1.06,"v":-49.6},{"t":1.065,"v":-51},{"t":1.07,"v":-48.2},{"t":1.075,"v":-51.8},{"t":1.08,"v":-49},{"t":1.085,"v":-51.2},{"t":1.09,"v":-47.5},{"t":1.095,"v":-50.6},{"t":1.1,"v":-48.5},{"t":1.105,"v":-52.3},{"t":1.11,"v":-49.3},{"t":1.115,"v":-51},{"t":1.12,"v":-47.8},{"t":1.125,"v":-51.8},{"t":1.13,"v":-49.6},{"t":1.135,"v":-51.2},{"t":1.14,"v":-48.2},{"t":1.145,"v":-50.6},{"t":1.15,"v":-49},{"t":1.155,"v":-52.3},{"t":1.16,"v":-47.5},{"t":1.165,"v":-51},{"t":1.17,"v":-48.5},{"t":1.175,"v":-51.8},{"t":1.18,"v":-49.3},{"t":1.185,"v":-51.2},{"t":1.19,"v":-47.8},{"t":1.195,"v":-50.6},{"t":1.2,"v":-49.6},{"t":1.205,"v":-52.3},{"t":1.21,"v":-49}],
"aGlaS": [{"t":-0.5,"v":-50.2},{"t":-0.45,"v":-50},{"t":-0.4,"v":-50.1},{"t":-0.35,"v":-49.8},{"t":-0.3,"v":-49.6},{"t":-0.25,"v":-49.9},{"t":-0.2,"v":-50},{"t":-0.15,"v":-49.8},{"t":-0.1,"v":-50},{"t":-0.05,"v":-49.9},{"t":-0.03,"v":-50},{"t":-0.02,"v":-51},{"t":-0.01,"v":-52.2},{"t":0,"v":-53.5},{"t":0.02,"v":-56},{"t":0.04,"v":-58.5},{"t":0.06,"v":-59.8},{"t":0.08,"v":-59.5},{"t":0.1,"v":-59.3},{"t":0.12,"v":-59.6},{"t":0.15,"v":-59.4},{"t":0.18,"v":-59.1},{"t":0.2,"v":-59.3},{"t":0.22,"v":-58.9},{"t":0.25,"v":-59.2},{"t":0.28,"v":-58.6},{"t":0.3,"v":-58.8},{"t":0.31,"v":-58.2},{"t":0.33,"v":-57},{"t":0.35,"v":-55.4},{"t":0.37,"v":-53},{"t":0.388,"v":-51.5},{"t":0.4,"v":-52.5},{"t":0.415,"v":-55},{"t":0.432,"v":-56.3},{"t":0.45,"v":-55.2},{"t":0.47,"v":-53},{"t":0.49,"v":-51.5},{"t":0.52,"v":-50.5},{"t":0.55,"v":-50.1},{"t":0.6,"v":-50.2},{"t":0.7,"v":-50},{"t":0.8,"v":-49.8},{"t":0.9,"v":-50},{"t":1.0,"v":-49.9},{"t":1.1,"v":-50},{"t":1.21,"v":-49.9}],
"bCon": [{"t":-0.5,"v":-27.6},{"t":-0.495,"v":-28.4},{"t":-0.49,"v":-28.8},{"t":-0.485,"v":-27.6},{"t":-0.48,"v":-27.4},{"t":-0.475,"v":-28.8},{"t":-0.47,"v":-28.4},{"t":-0.465,"v":-27.5},{"t":-0.46,"v":-27.8},{"t":-0.455,"v":-28.6},{"t":-0.45,"v":-28.9},{"t":-0.445,"v":-29.8},{"t":-0.44,"v":-29},{"t":-0.435,"v":-27.8},{"t":-0.43,"v":-26.8},{"t":-0.425,"v":-26.4},{"t":-0.42,"v":-26.5},{"t":-0.415,"v":-27.5},{"t":-0.41,"v":-28.2},{"t":-0.405,"v":-29.5},{"t":-0.4,"v":-30},{"t":-0.395,"v":-31.5},{"t":-0.39,"v":-32},{"t":-0.385,"v":-33.5},{"t":-0.38,"v":-34.5},{"t":-0.375,"v":-37},{"t":-0.37,"v":-43},{"t":-0.365,"v":-38},{"t":-0.36,"v":-47},{"t":-0.355,"v":-38.5},{"t":-0.35,"v":-47},{"t":-0.345,"v":-39},{"t":-0.34,"v":-47},{"t":-0.335,"v":-40},{"t":-0.33,"v":-47},{"t":-0.325,"v":-39},{"t":-0.32,"v":-47},{"t":-0.315,"v":-41},{"t":-0.31,"v":-47},{"t":-0.305,"v":-40},{"t":-0.3,"v":-47},{"t":-0.295,"v":-41.5},{"t":-0.29,"v":-47},{"t":-0.285,"v":-40},{"t":-0.28,"v":-47},{"t":-0.275,"v":-41},{"t":-0.27,"v":-47},{"t":-0.265,"v":-39.5},{"t":-0.26,"v":-47},{"t":-0.255,"v":-38.5},{"t":-0.25,"v":-46},{"t":-0.245,"v":-38},{"t":-0.24,"v":-44},{"t":-0.235,"v":-37.5},{"t":-0.23,"v":-41},{"t":-0.225,"v":-37},{"t":-0.22,"v":-38.5},{"t":-0.215,"v":-35},{"t":-0.21,"v":-36},{"t":-0.205,"v":-33},{"t":-0.2,"v":-34},{"t":-0.195,"v":-31},{"t":-0.19,"v":-31.5},{"t":-0.185,"v":-29.5},{"t":-0.18,"v":-29.8},{"t":-0.175,"v":-28.3},{"t":-0.17,"v":-28.6},{"t":-0.16,"v":-27.7},{"t":-0.15,"v":-28.3},{"t":-0.14,"v":-27.8},{"t":-0.13,"v":-28.4},{"t":-0.12,"v":-27.7},{"t":-0.1,"v":-28.3},{"t":-0.08,"v":-27.8},{"t":-0.06,"v":-28.4},{"t":-0.04,"v":-27.7},{"t":-0.02,"v":-28.3},{"t":0,"v":-27.8},{"t":0.03,"v":-28.4},{"t":0.06,"v":-27.7},{"t":0.09,"v":-28.3},{"t":0.12,"v":-27.8},{"t":0.15,"v":-28.4},{"t":0.18,"v":-27.7},{"t":0.22,"v":-28.3},{"t":0.26,"v":-27.7},{"t":0.3,"v":-28.3},{"t":0.34,"v":-27.7},{"t":0.38,"v":-28.3},{"t":0.42,"v":-27.7},{"t":0.46,"v":-28.3},{"t":0.5,"v":-27.7},{"t":0.54,"v":-28.3},{"t":0.58,"v":-27.7},{"t":0.62,"v":-28.3},{"t":0.66,"v":-27.7},{"t":0.7,"v":-28.3},{"t":0.74,"v":-27.7},{"t":0.78,"v":-28.3},{"t":0.82,"v":-27.7},{"t":0.86,"v":-28.3},{"t":0.9,"v":-27.7},{"t":0.94,"v":-28.3},{"t":0.98,"v":-27.7},{"t":1.02,"v":-28.3},{"t":1.06,"v":-27.7},{"t":1.1,"v":-28.3},{"t":1.14,"v":-27.7},{"t":1.18,"v":-28.3},{"t":1.21,"v":-27.9}],
"bConS": [{"t":-0.5,"v":-28},{"t":-0.49,"v":-28.5},{"t":-0.48,"v":-27.8},{"t":-0.47,"v":-28.6},{"t":-0.46,"v":-27.6},{"t":-0.45,"v":-28.4},{"t":-0.443,"v":-29.5},{"t":-0.435,"v":-28},{"t":-0.426,"v":-26.7},{"t":-0.415,"v":-27.8},{"t":-0.4,"v":-30.2},{"t":-0.385,"v":-32.8},{"t":-0.37,"v":-35.2},{"t":-0.355,"v":-37.8},{"t":-0.34,"v":-40},{"t":-0.325,"v":-41.7},{"t":-0.31,"v":-43},{"t":-0.295,"v":-43.8},{"t":-0.283,"v":-44.2},{"t":-0.27,"v":-44.3},{"t":-0.26,"v":-43.9},{"t":-0.25,"v":-42.8},{"t":-0.24,"v":-41.3},{"t":-0.23,"v":-39.3},{"t":-0.22,"v":-37.2},{"t":-0.21,"v":-35},{"t":-0.2,"v":-32.8},{"t":-0.19,"v":-30.6},{"t":-0.18,"v":-29},{"t":-0.17,"v":-28.2},{"t":-0.16,"v":-27.9},{"t":-0.14,"v":-28.1},{"t":-0.1,"v":-27.9},{"t":0,"v":-28},{"t":0.2,"v":-28},{"t":0.5,"v":-28.1},{"t":0.8,"v":-28},{"t":1.21,"v":-28}],
"bDry": [{"t":-0.5,"v":-25.7},{"t":-0.48,"v":-26.2},{"t":-0.46,"v":-25.7},{"t":-0.44,"v":-26.2},{"t":-0.42,"v":-25.7},{"t":-0.4,"v":-26.2},{"t":-0.38,"v":-25.7},{"t":-0.36,"v":-26.2},{"t":-0.34,"v":-25.7},{"t":-0.32,"v":-26.2},{"t":-0.3,"v":-25.7},{"t":-0.28,"v":-26.2},{"t":-0.26,"v":-25.7},{"t":-0.24,"v":-26.2},{"t":-0.22,"v":-25.7},{"t":-0.21,"v":-26.1},{"t":-0.2,"v":-26.3},{"t":-0.195,"v":-26.8},{"t":-0.19,"v":-27.3},{"t":-0.185,"v":-28},{"t":-0.18,"v":-29},{"t":-0.175,"v":-29.8},{"t":-0.17,"v":-31},{"t":-0.165,"v":-32},{"t":-0.16,"v":-34},{"t":-0.155,"v":-40.5},{"t":-0.15,"v":-47},{"t":-0.145,"v":-40.5},{"t":-0.14,"v":-47},{"t":-0.135,"v":-41},{"t":-0.13,"v":-47},{"t":-0.125,"v":-40},{"t":-0.12,"v":-47},{"t":-0.115,"v":-41.5},{"t":-0.11,"v":-47},{"t":-0.105,"v":-40.5},{"t":-0.1,"v":-47},{"t":-0.095,"v":-42},{"t":-0.09,"v":-47},{"t":-0.085,"v":-40.5},{"t":-0.08,"v":-47},{"t":-0.075,"v":-41},{"t":-0.07,"v":-47},{"t":-0.065,"v":-40},{"t":-0.06,"v":-47},{"t":-0.055,"v":-41.5},{"t":-0.05,"v":-47},{"t":-0.045,"v":-40.5},{"t":-0.04,"v":-47},{"t":-0.035,"v":-40},{"t":-0.03,"v":-47},{"t":-0.025,"v":-41},{"t":-0.02,"v":-46},{"t":-0.015,"v":-43},{"t":-0.01,"v":-41},{"t":-0.005,"v":-38.5},{"t":0,"v":-37},{"t":0.005,"v":-35},{"t":0.01,"v":-34},{"t":0.015,"v":-32},{"t":0.02,"v":-31},{"t":0.025,"v":-29.5},{"t":0.03,"v":-28.8},{"t":0.035,"v":-27.5},{"t":0.04,"v":-27},{"t":0.045,"v":-26},{"t":0.05,"v":-25.6},{"t":0.055,"v":-25},{"t":0.06,"v":-24.6},{"t":0.07,"v":-24.4},{"t":0.08,"v":-25},{"t":0.09,"v":-25.8},{"t":0.1,"v":-26.4},{"t":0.11,"v":-26},{"t":0.12,"v":-25.4},{"t":0.13,"v":-25.6},{"t":0.14,"v":-26.3},{"t":0.15,"v":-26.1},{"t":0.16,"v":-25.6},{"t":0.18,"v":-26.1},{"t":0.2,"v":-25.8},{"t":0.24,"v":-26.1},{"t":0.28,"v":-25.7},{"t":0.32,"v":-26.1},{"t":0.36,"v":-25.7},{"t":0.4,"v":-26.1},{"t":0.44,"v":-25.7},{"t":0.48,"v":-26.1},{"t":0.52,"v":-25.7},{"t":0.56,"v":-26.1},{"t":0.6,"v":-25.7},{"t":0.64,"v":-26.1},{"t":0.68,"v":-25.7},{"t":0.72,"v":-26.1},{"t":0.76,"v":-25.7},{"t":0.8,"v":-26.1},{"t":0.84,"v":-25.7},{"t":0.88,"v":-26.1},{"t":0.92,"v":-25.7},{"t":0.96,"v":-26.1},{"t":1.0,"v":-25.7},{"t":1.04,"v":-26.1},{"t":1.08,"v":-25.7},{"t":1.12,"v":-26.1},{"t":1.16,"v":-25.7},{"t":1.21,"v":-26}],
"bDryS": [{"t":-0.5,"v":-25.9},{"t":-0.3,"v":-25.9},{"t":-0.21,"v":-25.9},{"t":-0.2,"v":-26.2},{"t":-0.19,"v":-27},{"t":-0.18,"v":-28.5},{"t":-0.17,"v":-30.5},{"t":-0.16,"v":-33},{"t":-0.15,"v":-35.5},{"t":-0.14,"v":-37.5},{"t":-0.13,"v":-39},{"t":-0.12,"v":-40},{"t":-0.1,"v":-40.8},{"t":-0.085,"v":-41.3},{"t":-0.07,"v":-41.6},{"t":-0.055,"v":-41.2},{"t":-0.045,"v":-40.9},{"t":-0.035,"v":-40.6},{"t":-0.025,"v":-40},{"t":-0.015,"v":-38.8},{"t":-0.005,"v":-36.8},{"t":0.005,"v":-34.2},{"t":0.015,"v":-31.8},{"t":0.025,"v":-29.6},{"t":0.035,"v":-27.9},{"t":0.046,"v":-26.3},{"t":0.057,"v":-25.3},{"t":0.067,"v":-24.8},{"t":0.078,"v":-25},{"t":0.09,"v":-25.8},{"t":0.1,"v":-26.3},{"t":0.11,"v":-26},{"t":0.12,"v":-25.5},{"t":0.13,"v":-25.6},{"t":0.14,"v":-26.2},{"t":0.15,"v":-26.1},{"t":0.16,"v":-25.7},{"t":0.175,"v":-25.9},{"t":0.19,"v":-26.1},{"t":0.2,"v":-25.9},{"t":0.5,"v":-25.9},{"t":1.21,"v":-25.9}],
"bGla": [{"t":-0.5,"v":-23.7},{"t":-0.48,"v":-24.1},{"t":-0.46,"v":-23.7},{"t":-0.44,"v":-24.1},{"t":-0.42,"v":-23.7},{"t":-0.4,"v":-24.1},{"t":-0.38,"v":-23.7},{"t":-0.36,"v":-24.2},{"t":-0.35,"v":-23.4},{"t":-0.345,"v":-24.2},{"t":-0.34,"v":-23.5},{"t":-0.335,"v":-24.3},{"t":-0.33,"v":-23.1},{"t":-0.325,"v":-24.1},{"t":-0.32,"v":-23.5},{"t":-0.315,"v":-24.2},{"t":-0.31,"v":-22.9},{"t":-0.305,"v":-23.9},{"t":-0.3,"v":-23.4},{"t":-0.295,"v":-24.1},{"t":-0.29,"v":-22.7},{"t":-0.285,"v":-23.6},{"t":-0.28,"v":-23.2},{"t":-0.275,"v":-24.1},{"t":-0.27,"v":-22.3},{"t":-0.265,"v":-23.2},{"t":-0.26,"v":-23.6},{"t":-0.255,"v":-24.4},{"t":-0.25,"v":-23.8},{"t":-0.245,"v":-22.9},{"t":-0.24,"v":-23.6},{"t":-0.235,"v":-22.6},{"t":-0.23,"v":-22.3},{"t":-0.225,"v":-23.2},{"t":-0.22,"v":-22.2},{"t":-0.215,"v":-22.8},{"t":-0.21,"v":-22.5},{"t":-0.205,"v":-23.5},{"t":-0.2,"v":-23},{"t":-0.195,"v":-24.2},{"t":-0.19,"v":-23.8},{"t":-0.185,"v":-25.5},{"t":-0.18,"v":-25},{"t":-0.175,"v":-27.5},{"t":-0.17,"v":-27},{"t":-0.165,"v":-30},{"t":-0.16,"v":-29.5},{"t":-0.155,"v":-33},{"t":-0.15,"v":-41},{"t":-0.145,"v":-33.5},{"t":-0.14,"v":-41},{"t":-0.135,"v":-34},{"t":-0.13,"v":-41},{"t":-0.125,"v":-33.5},{"t":-0.12,"v":-41},{"t":-0.115,"v":-34.5},{"t":-0.11,"v":-41},{"t":-0.105,"v":-34},{"t":-0.1,"v":-41},{"t":-0.095,"v":-35},{"t":-0.09,"v":-41},{"t":-0.085,"v":-34},{"t":-0.08,"v":-41},{"t":-0.075,"v":-35},{"t":-0.07,"v":-41},{"t":-0.065,"v":-37},{"t":-0.06,"v":-38.5},{"t":-0.055,"v":-35.5},{"t":-0.05,"v":-36},{"t":-0.045,"v":-33.5},{"t":-0.04,"v":-34.5},{"t":-0.035,"v":-32},{"t":-0.03,"v":-33},{"t":-0.025,"v":-30.8},{"t":-0.02,"v":-31.5},{"t":-0.015,"v":-29.5},{"t":-0.01,"v":-30.2},{"t":-0.005,"v":-28.3},{"t":0,"v":-29},{"t":0.005,"v":-27},{"t":0.01,"v":-27.5},{"t":0.015,"v":-26},{"t":0.02,"v":-26.4},{"t":0.025,"v":-24.9},{"t":0.03,"v":-25.3},{"t":0.035,"v":-23.9},{"t":0.04,"v":-24.2},{"t":0.045,"v":-23.2},{"t":0.05,"v":-23.5},{"t":0.06,"v":-23.2},{"t":0.07,"v":-23.8},{"t":0.08,"v":-24.2},{"t":0.12,"v":-23.7},{"t":0.16,"v":-24.1},{"t":0.2,"v":-23.7},{"t":0.24,"v":-24.1},{"t":0.28,"v":-23.7},{"t":0.32,"v":-24.1},{"t":0.36,"v":-23.7},{"t":0.4,"v":-24.1},{"t":0.44,"v":-23.7},{"t":0.48,"v":-24.1},{"t":0.52,"v":-23.7},{"t":0.56,"v":-24.1},{"t":0.6,"v":-23.7},{"t":0.64,"v":-24.1},{"t":0.68,"v":-23.7},{"t":0.72,"v":-24.1},{"t":0.76,"v":-23.7},{"t":0.8,"v":-24.1},{"t":0.84,"v":-23.7},{"t":0.88,"v":-24.1},{"t":0.92,"v":-23.7},{"t":0.96,"v":-24.1},{"t":1.0,"v":-23.7},{"t":1.04,"v":-24.1},{"t":1.08,"v":-23.7},{"t":1.12,"v":-24.1},{"t":1.16,"v":-23.7},{"t":1.21,"v":-23.9}],
"bGlaS": [{"t":-0.5,"v":-23.8},{"t":-0.4,"v":-23.8},{"t":-0.35,"v":-23.7},{"t":-0.34,"v":-23.9},{"t":-0.33,"v":-23.4},{"t":-0.32,"v":-24},{"t":-0.31,"v":-23.3},{"t":-0.3,"v":-23.9},{"t":-0.29,"v":-23.1},{"t":-0.28,"v":-23.9},{"t":-0.27,"v":-22.8},{"t":-0.26,"v":-23.6},{"t":-0.25,"v":-24.2},{"t":-0.24,"v":-23.3},{"t":-0.23,"v":-22.9},{"t":-0.22,"v":-22.7},{"t":-0.21,"v":-22.9},{"t":-0.2,"v":-23.4},{"t":-0.19,"v":-24},{"t":-0.18,"v":-25.6},{"t":-0.17,"v":-28},{"t":-0.16,"v":-30.8},{"t":-0.15,"v":-33},{"t":-0.14,"v":-34},{"t":-0.13,"v":-34.5},{"t":-0.12,"v":-35},{"t":-0.11,"v":-35.8},{"t":-0.1,"v":-36.5},{"t":-0.09,"v":-37.3},{"t":-0.083,"v":-37.7},{"t":-0.075,"v":-37.3},{"t":-0.065,"v":-36.3},{"t":-0.055,"v":-35},{"t":-0.045,"v":-33.8},{"t":-0.035,"v":-32.5},{"t":-0.025,"v":-31.3},{"t":-0.015,"v":-30.2},{"t":-0.005,"v":-29},{"t":0.005,"v":-27.8},{"t":0.015,"v":-26.8},{"t":0.025,"v":-25.6},{"t":0.035,"v":-24.6},{"t":0.045,"v":-23.8},{"t":0.055,"v":-23.4},{"t":0.065,"v":-23.6},{"t":0.08,"v":-24},{"t":0.1,"v":-23.9},{"t":0.2,"v":-23.9},{"t":0.4,"v":-23.9},{"t":0.7,"v":-23.8},{"t":1.0,"v":-23.9},{"t":1.21,"v":-23.8}]
},
"hconcat": [
{
 "width": 394, "height": 244,
 "title": {"text": "(a) Horizontal plane.", "dx": -6},
 "encoding": {
  "x": {"field": "t", "type": "quantitative", "scale": {"domain": [-0.5, 1.21], "nice": false, "zero": false}, "axis": {"title": "Time, s", "values": [-0.5, 0, 0.5, 1], "format": ".1f", "labelExpr": "replace(datum.label, '-', '−')"}},
  "y": {"field": "v", "type": "quantitative", "scale": {"domain": [-70, 0], "nice": false, "zero": false}, "axis": {"title": "Signal strength, dBm", "values": [-70, -60, -50, -40, -30, -20, -10, 0], "labelExpr": "replace(datum.label, '-', '−')"}}
 },
 "layer": [
  {"data": {"name": "noise"}, "mark": {"type": "line", "interpolate": "step", "strokeWidth": 1.3, "clip": true}, "encoding": {"color": {"datum": "Noise,", "type": "nominal", "scale": {"domain": ["Noise,", "Concrete reflection", "Drywall reflection", "Glass reflection", "Direct trace"], "range": ["#BA1C43", "#6E1A14", "#E5730F", "#F2C300", "#A6C6EA"]}}}},
  {"data": {"name": "aDry"}, "mark": {"type": "line", "strokeWidth": 2.2, "clip": true}, "encoding": {"color": {"datum": "Drywall reflection", "type": "nominal"}}},
  {"data": {"name": "aCon"}, "mark": {"type": "line", "strokeWidth": 2.2, "clip": true}, "encoding": {"color": {"datum": "Concrete reflection", "type": "nominal"}}},
  {"data": {"name": "aGla"}, "mark": {"type": "line", "interpolate": "step", "strokeWidth": 1.3, "clip": true}, "encoding": {"color": {"datum": "Glass reflection", "type": "nominal"}}},
  {"data": {"name": "direct"}, "mark": {"type": "line", "interpolate": "step", "strokeWidth": 2.2, "clip": true}, "encoding": {"color": {"datum": "Direct trace", "type": "nominal"}}},
  {"data": {"name": "noiseS"}, "mark": {"type": "line", "strokeWidth": 1.6, "color": "#5E6A4E", "clip": true}, "encoding": {}},
  {"data": {"name": "aDryS"}, "mark": {"type": "line", "strokeWidth": 1.5, "color": "#2E2724", "clip": true}, "encoding": {}},
  {"data": {"name": "aConS"}, "mark": {"type": "line", "strokeWidth": 1.5, "color": "#3A2C2A", "clip": true}, "encoding": {}},
  {"data": {"name": "aGlaS"}, "mark": {"type": "line", "strokeWidth": 1.5, "color": "#7A6444", "clip": true}, "encoding": {}},
  {"data": {"name": "directS"}, "mark": {"type": "line", "strokeWidth": 1.6, "color": "#6E5A40", "clip": true}, "encoding": {}}
 ]
},
{
 "width": 393, "height": 244,
 "title": {"text": "(b) Vertical plane.", "dx": -20},
 "encoding": {
  "x": {"field": "t", "type": "quantitative", "scale": {"domain": [-0.5, 1.21], "nice": false, "zero": false}, "axis": {"title": "Time, s", "values": [-0.5, 0, 0.5, 1], "format": ".1f", "labelExpr": "replace(datum.label, '-', '−')"}},
  "y": {"field": "v", "type": "quantitative", "scale": {"domain": [-70, 0], "nice": false, "zero": false}, "axis": {"title": "Signal strength, dBm", "values": [-70, -60, -50, -40, -30, -20, -10, 0], "labelExpr": "replace(datum.label, '-', '−')"}}
 },
 "layer": [
  {"data": {"name": "noise"}, "mark": {"type": "line", "interpolate": "step", "strokeWidth": 1.3, "clip": true}, "encoding": {"color": {"datum": "Noise,", "type": "nominal", "scale": {"domain": ["Noise,", "Concrete reflection", "Drywall reflection", "Glass reflection", "Direct trace"], "range": ["#BA1C43", "#6E1A14", "#E5730F", "#F2C300", "#A6C6EA"]}}}},
  {"data": {"name": "bDry"}, "mark": {"type": "line", "strokeWidth": 2.2, "clip": true}, "encoding": {"color": {"datum": "Drywall reflection", "type": "nominal"}}},
  {"data": {"name": "bCon"}, "mark": {"type": "line", "strokeWidth": 2.2, "clip": true}, "encoding": {"color": {"datum": "Concrete reflection", "type": "nominal"}}},
  {"data": {"name": "bGla"}, "mark": {"type": "line", "strokeWidth": 2.2, "clip": true}, "encoding": {"color": {"datum": "Glass reflection", "type": "nominal"}}},
  {"data": {"name": "direct"}, "mark": {"type": "line", "interpolate": "step", "strokeWidth": 2.2, "clip": true}, "encoding": {"color": {"datum": "Direct trace", "type": "nominal"}}},
  {"data": {"name": "noiseS"}, "mark": {"type": "line", "strokeWidth": 1.6, "color": "#5E6A4E", "clip": true}, "encoding": {}},
  {"data": {"name": "bDryS"}, "mark": {"type": "line", "strokeWidth": 1.5, "color": "#2E2724", "clip": true}, "encoding": {}},
  {"data": {"name": "bConS"}, "mark": {"type": "line", "strokeWidth": 1.5, "color": "#3A2C2A", "clip": true}, "encoding": {}},
  {"data": {"name": "bGlaS"}, "mark": {"type": "line", "strokeWidth": 1.5, "color": "#7A6444", "clip": true}, "encoding": {}},
  {"data": {"name": "directS"}, "mark": {"type": "line", "strokeWidth": 1.6, "color": "#6E5A40", "clip": true}, "encoding": {}}
 ]
}
]
}
